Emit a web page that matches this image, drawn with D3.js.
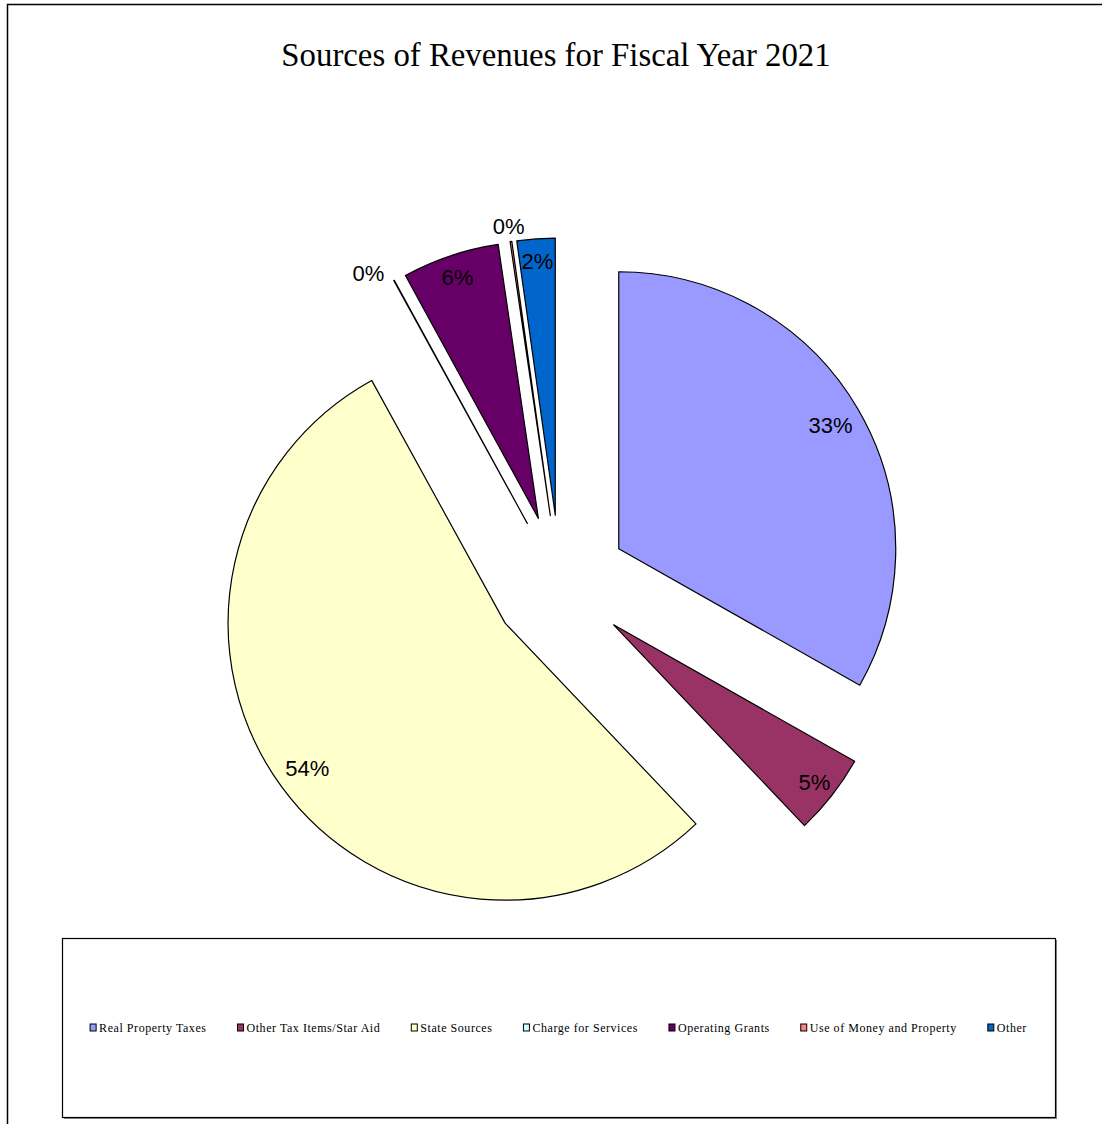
<!DOCTYPE html>
<html>
<head>
<meta charset="utf-8">
<script src="https://cdn.jsdelivr.net/npm/d3@7"></script>
<style>
  body { margin: 0; background: #fff; }
  svg { display: block; }
</style>
</head>
<body>
<div id="chart"></div>
<script>
// data (percent of total revenue)
var categories = ["Real Property Taxes", "Other Tax Items/Star Aid", "State Sources",
    "Charge for Services", "Operating Grants", "Use of Money and Property", "Other"];
var values = [33.2, 4.7, 54.1, 0.03, 5.65, 0.1, 2.22];
var colors = ["#9999ff", "#993366", "#ffffcc", "#ccffff", "#660066", "#ff8080", "#0066cc"];
var title = "Sources of Revenues for Fiscal Year 2021";

var width = 1102, height = 1124;

var svg = d3.select("#chart").append("svg")
    .attr("width", width)
    .attr("height", height);

// outer frame (runs off right and bottom edge)
svg.append("rect")
    .attr("x", 7.5).attr("y", 4.5)
    .attr("width", 1110).attr("height", 1140)
    .attr("fill", "#fff")
    .attr("stroke", "#000")
    .attr("stroke-width", 1.5);

svg.append("text")
    .attr("x", 556)
    .attr("y", 66)
    .attr("text-anchor", "middle")
    .style("font-family", "'Liberation Serif', 'Times New Roman', serif")
    .style("font-size", "32.8px")
    .text(title);

// pie
var cx = 560, cy = 583, radius = 277, explode = 68;

var data = categories.map(function(c, i) {
    return { name: c, value: values[i], color: colors[i] };
});

var pie = d3.pie()
    .sort(null)
    .value(function(d) { return d.value; });

var arc = d3.arc()
    .innerRadius(0)
    .outerRadius(radius);

var total = d3.sum(values);
var arcs = pie(data);

var g = svg.append("g")
    .attr("transform", "translate(" + cx + "," + cy + ")");

var slice = g.selectAll(".slice")
    .data(arcs)
    .enter().append("g")
    .attr("class", "slice")
    .attr("transform", function(d) {
        var m = (d.startAngle + d.endAngle) / 2;
        return "translate(" + (explode * Math.sin(m)) + "," + (-explode * Math.cos(m)) + ")";
    });

slice.append("path")
    .attr("d", arc)
    .attr("fill", function(d) { return d.data.color; })
    .attr("stroke", "#000")
    .attr("stroke-width", 1.2)
    .attr("stroke-linejoin", "round");

var pct = function(v) { return Math.round(v / total * 100) + "%"; };

slice.append("text")
    .each(function(d) {
        var m = (d.startAngle + d.endAngle) / 2;
        var s = Math.sin(m), c = Math.cos(m);
        var share = d.value / total;
        var sel = d3.select(this);
        if (share < 0.01) {
            // tiny slice: label sits outside the rim
            if (Math.abs(s) > 0.3) {
                var r = radius + 8;
                sel.attr("x", r * s - 6 * (s < 0 ? 1 : -1))
                    .attr("y", -r * c)
                    .attr("text-anchor", s < 0 ? "end" : "start");
            } else {
                var r1 = radius + 16;
                sel.attr("x", r1 * s)
                    .attr("y", -r1 * c)
                    .attr("text-anchor", "middle");
            }
        } else {
            var r2 = radius * (share < 0.1 ? 0.92 : 0.885);
            sel.attr("x", r2 * s)
                .attr("y", -r2 * c)
                .attr("text-anchor", "middle");
        }
    })
    .attr("dy", "0.36em")
    .style("font-family", "'Liberation Sans', Arial, sans-serif")
    .style("font-size", "22px")
    .text(function(d) { return pct(d.value); });

// legend
var lx = 62, ly = 938, lw = 993, lh = 179;

svg.append("rect")
    .attr("x", lx + 2).attr("y", ly + 2)
    .attr("width", lw).attr("height", lh)
    .attr("fill", "#888");

svg.append("rect")
    .attr("x", lx + 0.5).attr("y", ly + 0.5)
    .attr("width", lw).attr("height", lh)
    .attr("fill", "#fff")
    .attr("stroke", "#000")
    .attr("stroke-width", 1.2);

var legend = svg.append("g");

var items = legend.selectAll(".item")
    .data(data)
    .enter().append("g")
    .attr("class", "item");

items.append("rect")
    .attr("width", 6).attr("height", 7)
    .attr("y", -8)
    .attr("fill", function(d) { return d.color; })
    .attr("stroke", "#000")
    .attr("stroke-width", 1);

items.append("text")
    .attr("x", 9)
    .style("font-family", "'Liberation Serif', 'Times New Roman', serif")
    .style("font-size", "12px")
    .style("letter-spacing", "0.55px")
    .text(function(d) { return d.name; });

// place items left to right, centred in the box
var gap = 31, xs = [], run = 0;
items.each(function() {
    var w = 9 + d3.select(this).select("text").node().getComputedTextLength();
    xs.push(run);
    run += w + gap;
});
run -= gap;
var start = lx + lw / 2 - run / 2;
items.attr("transform", function(d, i) {
    return "translate(" + (start + xs[i]) + "," + 1032 + ")";
});
</script>
</body>
</html>
